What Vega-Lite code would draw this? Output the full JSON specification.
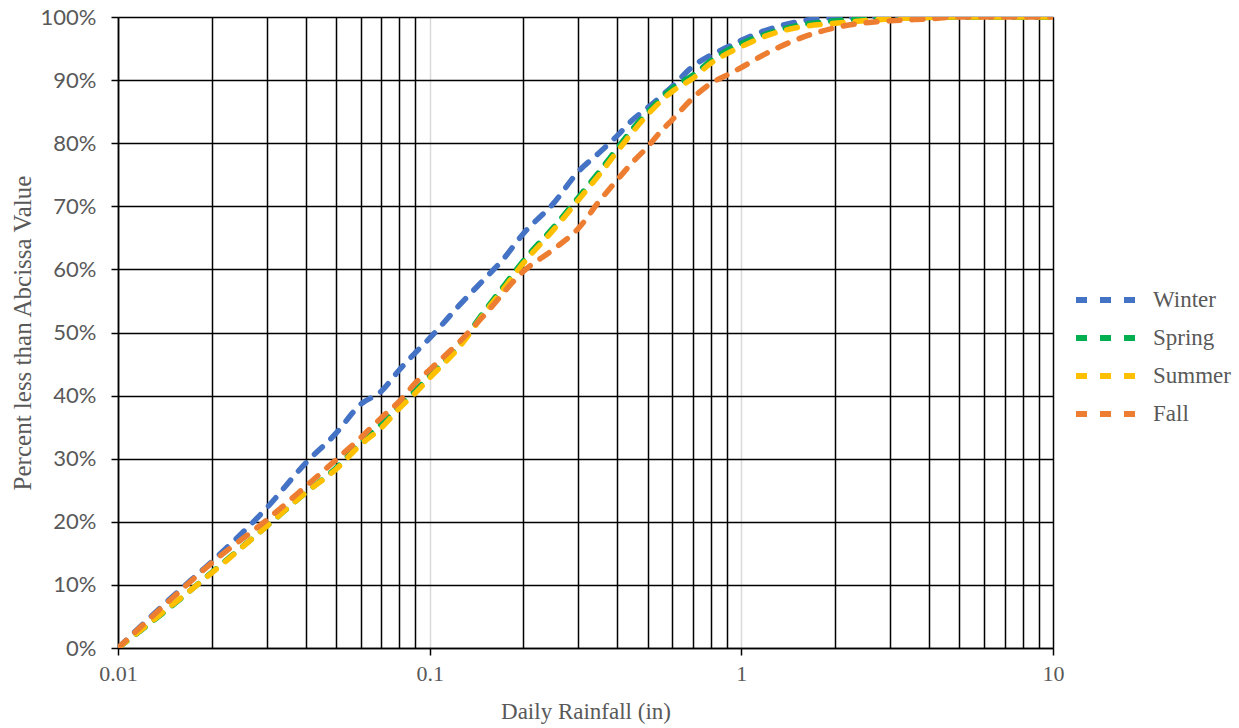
{
  "$schema": "https://vega.github.io/schema/vega-lite/v6.json",
  "width": 935,
  "height": 631,
  "autosize": {"type": "none"},
  "padding": {"left": 118, "top": 17, "right": 186, "bottom": 80},
  "background": "white",
  "config": {"view": {"stroke": null}},
  "data": {"values": [
    {"season":"Winter","rain":0.01,"pct":0},
    {"season":"Winter","rain":0.015,"pct":0.082},
    {"season":"Winter","rain":0.02,"pct":0.137},
    {"season":"Winter","rain":0.03,"pct":0.222},
    {"season":"Winter","rain":0.04,"pct":0.293},
    {"season":"Winter","rain":0.05,"pct":0.34},
    {"season":"Winter","rain":0.06,"pct":0.386},
    {"season":"Winter","rain":0.07,"pct":0.407},
    {"season":"Winter","rain":0.08,"pct":0.441},
    {"season":"Winter","rain":0.09,"pct":0.468},
    {"season":"Winter","rain":0.1,"pct":0.491},
    {"season":"Winter","rain":0.125,"pct":0.544},
    {"season":"Winter","rain":0.15,"pct":0.585},
    {"season":"Winter","rain":0.17,"pct":0.613},
    {"season":"Winter","rain":0.2,"pct":0.657},
    {"season":"Winter","rain":0.25,"pct":0.705},
    {"season":"Winter","rain":0.3,"pct":0.755},
    {"season":"Winter","rain":0.35,"pct":0.785},
    {"season":"Winter","rain":0.4,"pct":0.812},
    {"season":"Winter","rain":0.45,"pct":0.838},
    {"season":"Winter","rain":0.5,"pct":0.856},
    {"season":"Winter","rain":0.6,"pct":0.89},
    {"season":"Winter","rain":0.7,"pct":0.922},
    {"season":"Winter","rain":0.8,"pct":0.94},
    {"season":"Winter","rain":0.9,"pct":0.952},
    {"season":"Winter","rain":1,"pct":0.963},
    {"season":"Winter","rain":1.2,"pct":0.979},
    {"season":"Winter","rain":1.5,"pct":0.992},
    {"season":"Winter","rain":2,"pct":0.999},
    {"season":"Winter","rain":3,"pct":1},
    {"season":"Winter","rain":10,"pct":1},

    {"season":"Spring","rain":0.01,"pct":0},
    {"season":"Spring","rain":0.015,"pct":0.068},
    {"season":"Spring","rain":0.02,"pct":0.12},
    {"season":"Spring","rain":0.03,"pct":0.193},
    {"season":"Spring","rain":0.04,"pct":0.246},
    {"season":"Spring","rain":0.05,"pct":0.285},
    {"season":"Spring","rain":0.06,"pct":0.325},
    {"season":"Spring","rain":0.07,"pct":0.355},
    {"season":"Spring","rain":0.08,"pct":0.384},
    {"season":"Spring","rain":0.09,"pct":0.408},
    {"season":"Spring","rain":0.1,"pct":0.431},
    {"season":"Spring","rain":0.125,"pct":0.481},
    {"season":"Spring","rain":0.15,"pct":0.534},
    {"season":"Spring","rain":0.175,"pct":0.577},
    {"season":"Spring","rain":0.2,"pct":0.614},
    {"season":"Spring","rain":0.25,"pct":0.667},
    {"season":"Spring","rain":0.3,"pct":0.714},
    {"season":"Spring","rain":0.35,"pct":0.755},
    {"season":"Spring","rain":0.4,"pct":0.792},
    {"season":"Spring","rain":0.45,"pct":0.824},
    {"season":"Spring","rain":0.5,"pct":0.849},
    {"season":"Spring","rain":0.6,"pct":0.887},
    {"season":"Spring","rain":0.7,"pct":0.908},
    {"season":"Spring","rain":0.8,"pct":0.931},
    {"season":"Spring","rain":0.9,"pct":0.947},
    {"season":"Spring","rain":1,"pct":0.958},
    {"season":"Spring","rain":1.2,"pct":0.973},
    {"season":"Spring","rain":1.5,"pct":0.986},
    {"season":"Spring","rain":2,"pct":0.994},
    {"season":"Spring","rain":3,"pct":0.998},
    {"season":"Spring","rain":5,"pct":1},
    {"season":"Spring","rain":10,"pct":1},

    {"season":"Summer","rain":0.01,"pct":0},
    {"season":"Summer","rain":0.015,"pct":0.069},
    {"season":"Summer","rain":0.02,"pct":0.119},
    {"season":"Summer","rain":0.03,"pct":0.193},
    {"season":"Summer","rain":0.04,"pct":0.246},
    {"season":"Summer","rain":0.05,"pct":0.283},
    {"season":"Summer","rain":0.06,"pct":0.322},
    {"season":"Summer","rain":0.07,"pct":0.349},
    {"season":"Summer","rain":0.08,"pct":0.38},
    {"season":"Summer","rain":0.09,"pct":0.404},
    {"season":"Summer","rain":0.1,"pct":0.428},
    {"season":"Summer","rain":0.125,"pct":0.478},
    {"season":"Summer","rain":0.15,"pct":0.531},
    {"season":"Summer","rain":0.175,"pct":0.573},
    {"season":"Summer","rain":0.2,"pct":0.61},
    {"season":"Summer","rain":0.25,"pct":0.663},
    {"season":"Summer","rain":0.3,"pct":0.71},
    {"season":"Summer","rain":0.35,"pct":0.75},
    {"season":"Summer","rain":0.4,"pct":0.787},
    {"season":"Summer","rain":0.45,"pct":0.819},
    {"season":"Summer","rain":0.5,"pct":0.845},
    {"season":"Summer","rain":0.6,"pct":0.882},
    {"season":"Summer","rain":0.7,"pct":0.903},
    {"season":"Summer","rain":0.8,"pct":0.927},
    {"season":"Summer","rain":0.9,"pct":0.942},
    {"season":"Summer","rain":1,"pct":0.953},
    {"season":"Summer","rain":1.2,"pct":0.97},
    {"season":"Summer","rain":1.5,"pct":0.983},
    {"season":"Summer","rain":2,"pct":0.99},
    {"season":"Summer","rain":3,"pct":0.997},
    {"season":"Summer","rain":5,"pct":1},
    {"season":"Summer","rain":10,"pct":1},

    {"season":"Fall","rain":0.01,"pct":0},
    {"season":"Fall","rain":0.015,"pct":0.08},
    {"season":"Fall","rain":0.02,"pct":0.135},
    {"season":"Fall","rain":0.03,"pct":0.203},
    {"season":"Fall","rain":0.04,"pct":0.256},
    {"season":"Fall","rain":0.05,"pct":0.298},
    {"season":"Fall","rain":0.06,"pct":0.333},
    {"season":"Fall","rain":0.07,"pct":0.365},
    {"season":"Fall","rain":0.08,"pct":0.391},
    {"season":"Fall","rain":0.09,"pct":0.42},
    {"season":"Fall","rain":0.1,"pct":0.441},
    {"season":"Fall","rain":0.125,"pct":0.486},
    {"season":"Fall","rain":0.15,"pct":0.528},
    {"season":"Fall","rain":0.2,"pct":0.597},
    {"season":"Fall","rain":0.25,"pct":0.632},
    {"season":"Fall","rain":0.3,"pct":0.665},
    {"season":"Fall","rain":0.35,"pct":0.708},
    {"season":"Fall","rain":0.4,"pct":0.742},
    {"season":"Fall","rain":0.45,"pct":0.771},
    {"season":"Fall","rain":0.5,"pct":0.794},
    {"season":"Fall","rain":0.55,"pct":0.818},
    {"season":"Fall","rain":0.6,"pct":0.837},
    {"season":"Fall","rain":0.7,"pct":0.872},
    {"season":"Fall","rain":0.8,"pct":0.895},
    {"season":"Fall","rain":0.9,"pct":0.908},
    {"season":"Fall","rain":1,"pct":0.92},
    {"season":"Fall","rain":1.2,"pct":0.942},
    {"season":"Fall","rain":1.5,"pct":0.964},
    {"season":"Fall","rain":2,"pct":0.983},
    {"season":"Fall","rain":3,"pct":0.994},
    {"season":"Fall","rain":4,"pct":0.997},
    {"season":"Fall","rain":5,"pct":1},
    {"season":"Fall","rain":10,"pct":1}
  ]},
  "mark": {"type": "line", "strokeWidth": 5.5, "strokeDash": [11, 12], "strokeCap": "round", "interpolate": "monotone", "clip": true},
  "encoding": {
    "x": {
      "field": "rain", "type": "quantitative",
      "scale": {"type": "log", "domain": [0.01, 10], "nice": false},
      "title": "Daily Rainfall (in)",
      "axis": {
        "values": [0.01,0.02,0.03,0.04,0.05,0.06,0.07,0.08,0.09,0.1,0.2,0.3,0.4,0.5,0.6,0.7,0.8,0.9,1,2,3,4,5,6,7,8,9,10],
        "format": "~g",
        "labelExpr": "indexof(['0.01','0.1','1','10'], datum.label) >= 0 ? datum.label : ''",
        "grid": true,
        "gridColor": {"condition": {"test": "datum.value == 0.1 || datum.value == 1", "value": "#d9d9d9"}, "value": "#000000"},
        "gridWidth": 1.5,
        "gridOpacity": 1,
        "ticks": true,
        "tickSize": 7,
        "tickColor": "#000000",
        "tickWidth": 1.5,
        "tickOpacity": {"condition": {"test": "datum.value == 0.01 || datum.value == 0.1 || datum.value == 1 || datum.value == 10", "value": 1}, "value": 0},
        "domain": true,
        "domainColor": "#000000",
        "domainWidth": 1.5,
        "labelFont": "Liberation Serif",
        "labelFontSize": 22,
        "labelColor": "#595959",
        "labelPadding": 8,
        "labelFlush": false,
        "labelOverlap": false,
        "titleFont": "Liberation Serif",
        "titleFontSize": 23,
        "titleFontWeight": "normal",
        "titleColor": "#595959",
        "titlePadding": 16
      }
    },
    "y": {
      "field": "pct", "type": "quantitative",
      "scale": {"domain": [0, 1], "nice": false},
      "title": "Percent less than Abcissa Value",
      "axis": {
        "values": [0,0.1,0.2,0.3,0.4,0.5,0.6,0.7,0.8,0.9,1],
        "format": ".0%",
        "grid": true,
        "gridColor": "#000000",
        "gridWidth": 1.5,
        "gridOpacity": 1,
        "tickSize": 7,
        "tickColor": "#000000",
        "tickWidth": 1.5,
        "domainColor": "#000000",
        "domainWidth": 1.5,
        "labelFont": "Lato",
        "labelFontSize": 22,
        "labelColor": "#595959",
        "labelPadding": 15,
        "titleFont": "Liberation Serif",
        "titleFontSize": 25,
        "titleFontWeight": "normal",
        "titleColor": "#595959",
        "titlePadding": 5
      }
    },
    "color": {
      "field": "season", "type": "nominal",
      "scale": {"domain": ["Winter","Spring","Summer","Fall"], "range": ["#4472C4","#00B050","#FFC000","#ED7D31"]},
      "legend": {
        "title": null,
        "orient": "none",
        "legendX": 970,
        "legendY": 265,
        "symbolType": "M-2,0L2,0",
        "symbolSize": 900,
        "symbolStrokeWidth": 6,
        "symbolDash": [11, 13],
        "symbolFillColor": "transparent",
        "labelFont": "Liberation Serif",
        "labelFontSize": 23,
        "labelColor": "#595959",
        "labelOffset": 29,
        "rowPadding": 8
      }
    },
    "order": {"field": "rain", "type": "quantitative"}
  }
}
